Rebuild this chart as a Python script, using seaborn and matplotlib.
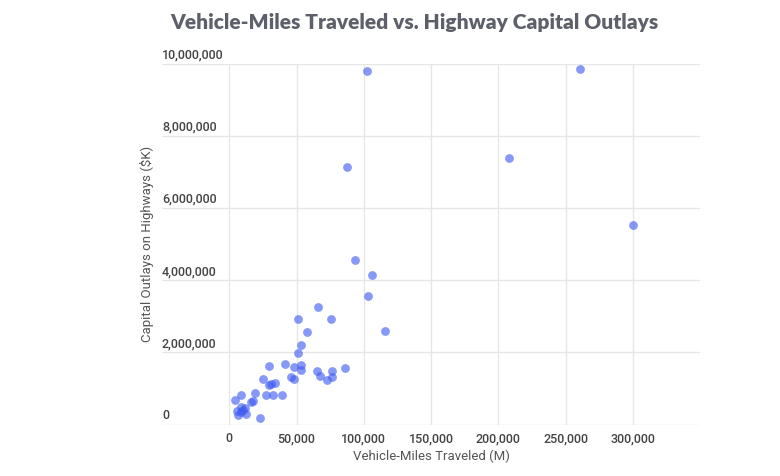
import matplotlib
matplotlib.use("Agg")
import matplotlib.pyplot as plt
import matplotlib.transforms as mtransforms
import seaborn as sns
import pandas as pd

# Vehicle-miles traveled (millions) and capital outlays on highways ($K)
vmt = [102200, 260700, 208200, 87800, 300000, 93800, 106300, 103000, 66100,
       51400, 75900, 57500, 115700, 53400, 50800, 29400, 41600, 48500, 53700,
       53700, 65500, 76400, 86300, 67600, 76400, 72600, 24900, 33700, 29700,
       31000, 46200, 48200, 19000, 27400, 32300, 39500, 8400, 4500, 15900,
       17500, 8400, 10200, 6200, 12300, 8700, 23200, 5700, 11500]
outlays = [9780000, 9850000, 7370000, 7120000, 5520000, 4570000, 4140000,
           3570000, 3250000, 2930000, 2930000, 2570000, 2600000, 2190000,
           1970000, 1620000, 1670000, 1590000, 1650000, 1500000, 1490000,
           1490000, 1570000, 1350000, 1320000, 1220000, 1270000, 1160000,
           1090000, 1120000, 1320000, 1250000, 860000, 830000, 830000, 830000,
           830000, 680000, 620000, 640000, 490000, 390000, 270000, 300000,
           350000, 190000, 370000, 450000]

x_ticks = [0, 50000, 100000, 150000, 200000, 250000, 300000]
y_ticks = [0, 2000000, 4000000, 6000000, 8000000, 10000000]

title = "Vehicle-Miles Traveled vs. Highway Capital Outlays"
x_label = "Vehicle-Miles Traveled (M)"
y_label = "Capital Outlays on Highways ($K)"

df = pd.DataFrame({"vmt": vmt, "outlays": outlays})

sns.set_theme(style="white")
plt.rcParams["font.family"] = ["Roboto", "DejaVu Sans"]

W, H = 780, 477
fig = plt.figure(figsize=(W / 100, H / 100), dpi=100)
left, right, top, bottom = 162, 700, 64.5, 425.5
ax = fig.add_axes([left / W, 1 - bottom / H, (right - left) / W, (bottom - top) / H])

sns.scatterplot(data=df, x="vmt", y="outlays", ax=ax, color="#3d5af1",
                alpha=0.62, s=40, linewidth=0, zorder=3)

ax.set_xlim(-50000, 350000)
ax.set_ylim(0, 10000000)
ax.set_xticks(x_ticks)
ax.set_xticklabels([f"{v:,}" for v in x_ticks], fontsize=9, color="#444444",
                   fontweight="medium")
ax.set_yticks(y_ticks)
ax.set_yticklabels([])
ax.tick_params(axis="both", length=0)
ax.tick_params(axis="x", pad=5)
ax.grid(True, color="#e6e6e6", linewidth=1)
ax.set_axisbelow(True)
for sp in ax.spines.values():
    sp.set_visible(False)

trans = mtransforms.blended_transform_factory(ax.transAxes, ax.transData)
offset = mtransforms.offset_copy(trans, fig=fig, x=0, y=3, units="dots")
for v in y_ticks:
    ax.text(0, v, f"{v:,}", transform=offset, ha="left", va="bottom",
            fontsize=9, color="#444444", fontweight="medium")

ax.set_xlabel(x_label, fontsize=9.5, color="#555555", labelpad=3)
ax.set_ylabel("")
fig.text(147 / W, 1 - 244 / H, y_label, rotation=90, ha="center", va="center",
         fontsize=9.5, color="#555555")

fig.text(414 / W, 1 - 22 / H, title, ha="center", va="center",
         fontsize=15, fontweight="heavy", color="#5d606b",
         family=["Lato", "DejaVu Sans"])

fig.savefig("out.png", dpi=100)
